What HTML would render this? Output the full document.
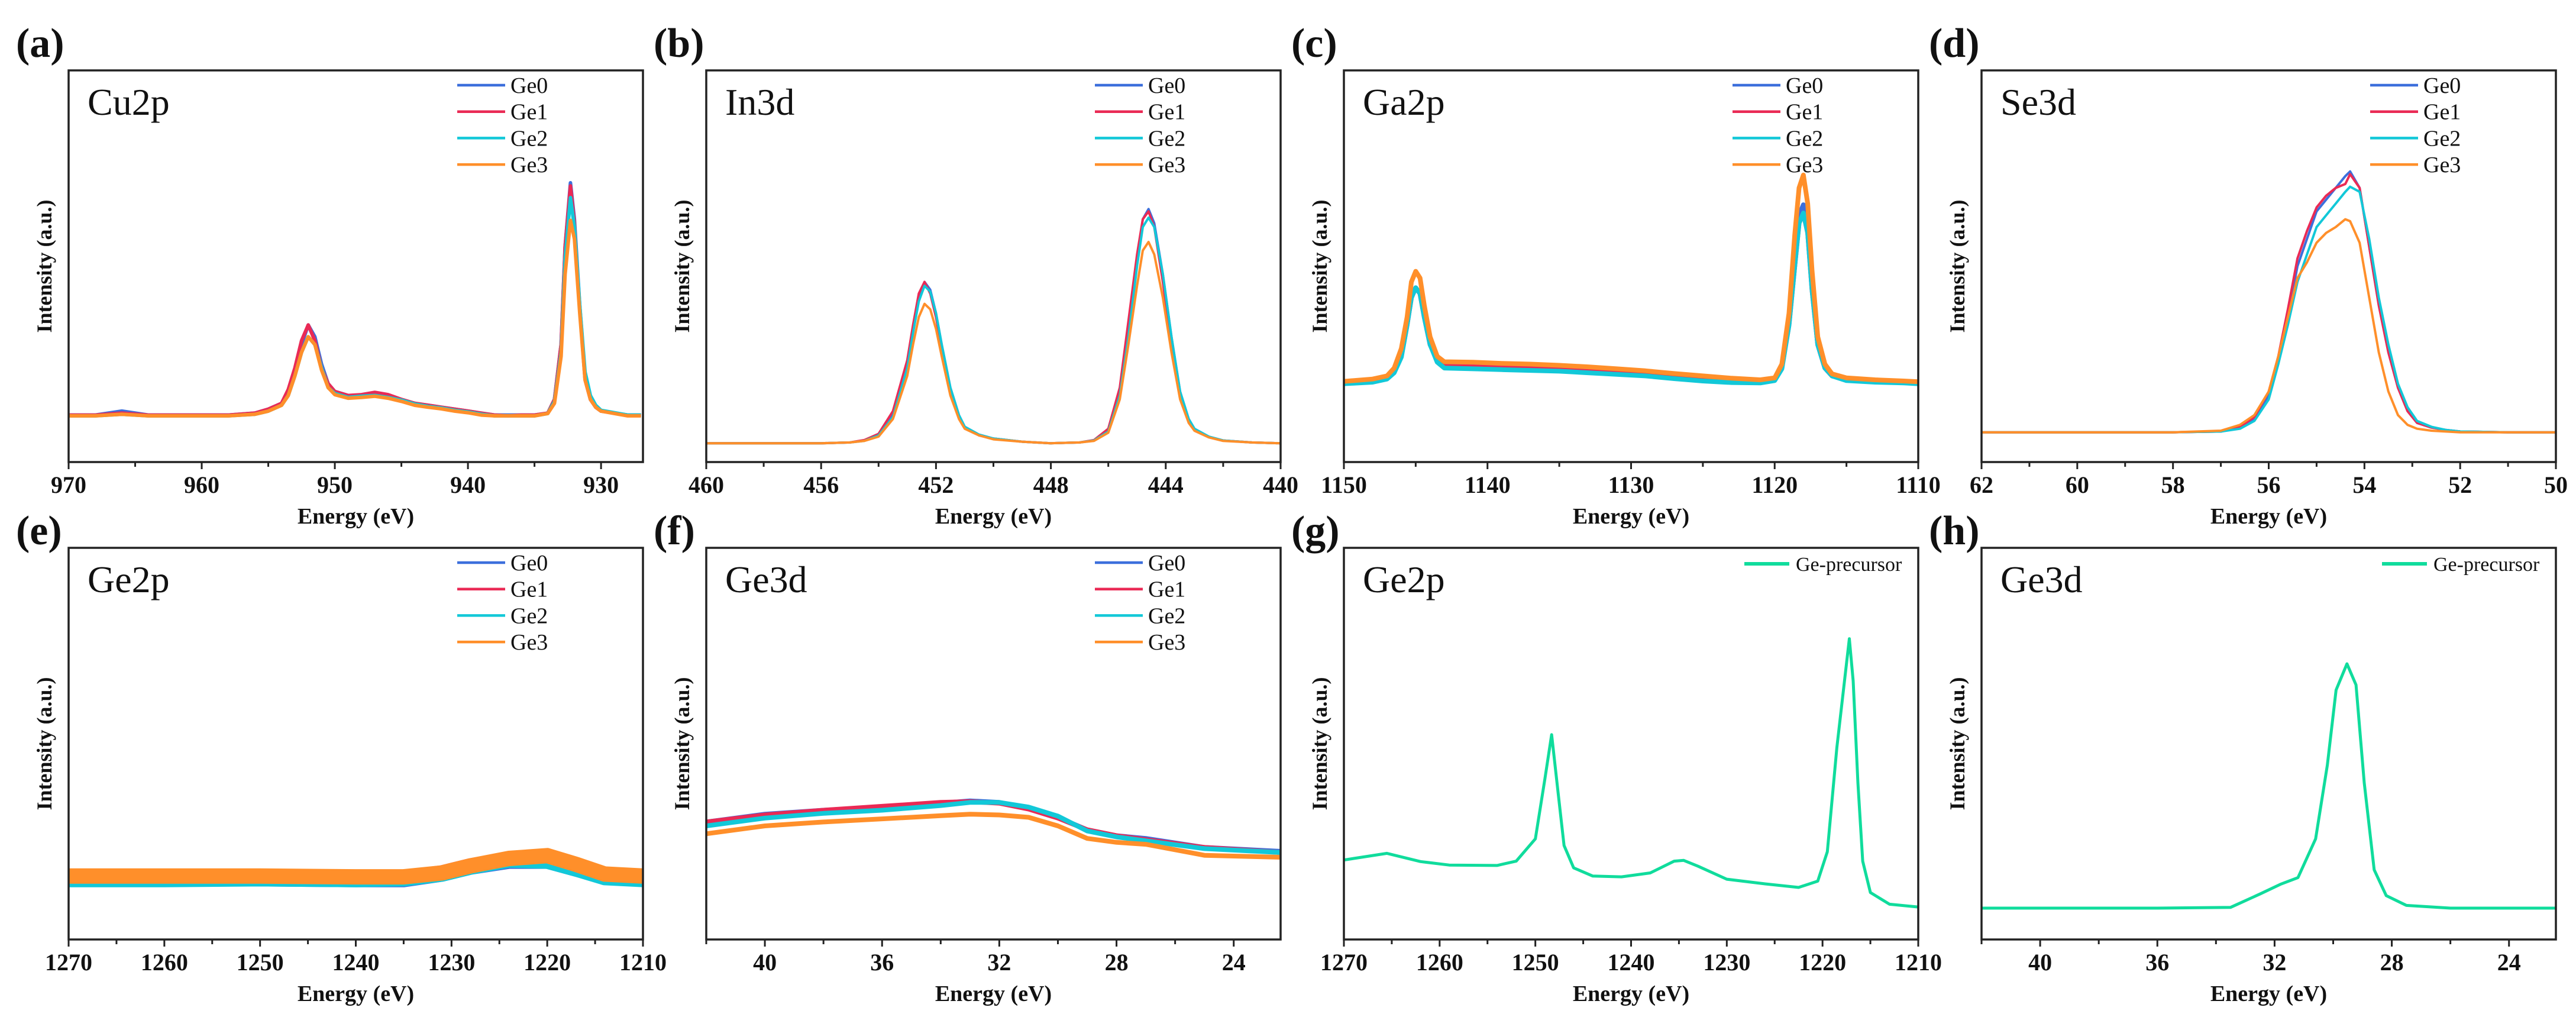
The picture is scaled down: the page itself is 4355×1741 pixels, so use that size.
<!DOCTYPE html>
<html><head><meta charset="utf-8"><style>
html,body{margin:0;padding:0;background:#fff;}
svg{display:block;font-family:"Liberation Serif",serif;}
text{font-family:"Liberation Serif",serif;}
</style></head><body>
<svg id="fig" width="4355" height="1741" viewBox="0 0 4355 1741" xmlns="http://www.w3.org/2000/svg" font-family="Liberation Serif, serif"></svg>
<script>
// ---- data (normalized intensity, 0 = bottom of frame, 1 = top) ----
const seriesNames = ["Ge0","Ge1","Ge2","Ge3"];
const seriesColors = ["#3c6fdc","#ea2a55","#12c8d8","#ff8f2a"];

const ea = [970,968,966,964,962,960,958,956,955,954,953.5,953,952.5,952,951.5,951,950.5,950,949,948,947,946,945,944,943,942,941,940,939,938,937,936,935,934,933.5,933,932.7,932.3,932,931.6,931.2,930.8,930.4,930,929,928,927];
const a0 = [.12,.12,.13,.12,.12,.12,.12,.125,.135,.15,.18,.23,.30,.35,.32,.25,.20,.18,.17,.17,.175,.17,.16,.15,.145,.14,.135,.13,.125,.12,.12,.12,.12,.125,.16,.30,.55,.713,.62,.40,.22,.16,.14,.13,.125,.12,.12];
const a1 = [.12,.12,.125,.12,.12,.12,.12,.125,.135,.15,.185,.24,.31,.35,.31,.24,.20,.18,.17,.172,.178,.172,.16,.15,.145,.14,.135,.13,.125,.12,.118,.12,.12,.125,.16,.30,.55,.705,.61,.39,.21,.16,.14,.13,.125,.12,.12];
const a2 = [.118,.118,.122,.118,.118,.118,.118,.122,.13,.145,.17,.22,.28,.32,.30,.24,.19,.175,.165,.168,.17,.165,.158,.148,.142,.138,.132,.128,.122,.118,.118,.118,.118,.124,.155,.28,.52,.675,.60,.40,.23,.17,.145,.132,.126,.12,.12];
const a3 = [.118,.118,.122,.118,.118,.118,.118,.122,.13,.145,.17,.22,.28,.32,.30,.235,.19,.172,.163,.165,.168,.163,.155,.145,.14,.136,.13,.126,.12,.118,.118,.118,.118,.124,.15,.27,.48,.617,.57,.38,.21,.16,.14,.13,.124,.118,.118];

const eb = [460,458,456,455,454.5,454,453.5,453,452.8,452.6,452.4,452.2,452,451.8,451.5,451.2,451,450.5,450,449,448,447,446.5,446,445.6,445.3,445,444.8,444.6,444.4,444.1,443.8,443.5,443.2,443,442.5,442,441,440];
const b0 = [.048,.048,.048,.05,.055,.07,.12,.25,.34,.42,.46,.44,.38,.30,.19,.12,.09,.07,.06,.052,.048,.05,.055,.08,.18,.34,.52,.62,.646,.61,.48,.32,.18,.11,.085,.065,.055,.05,.048];
const b1 = [.048,.048,.048,.05,.056,.072,.13,.26,.35,.43,.46,.43,.37,.29,.18,.115,.088,.068,.06,.052,.048,.05,.056,.085,.19,.36,.53,.62,.64,.60,.46,.30,.17,.105,.082,.064,.055,.05,.048];
const b2 = [.048,.048,.048,.05,.054,.068,.115,.24,.33,.41,.45,.435,.38,.30,.19,.12,.09,.07,.06,.052,.048,.05,.055,.078,.17,.32,.50,.60,.624,.60,.48,.32,.18,.11,.085,.065,.055,.05,.048];
const b3 = [.048,.048,.048,.05,.054,.065,.11,.22,.30,.37,.404,.39,.34,.27,.17,.11,.085,.068,.058,.052,.048,.05,.054,.075,.16,.30,.45,.54,.562,.53,.42,.28,.16,.10,.08,.063,.054,.05,.048];

const ec = [1150,1148,1147,1146.5,1146,1145.6,1145.3,1145,1144.7,1144.4,1144,1143.5,1143,1141,1139,1137,1135,1133,1131,1129,1127,1125,1123,1121,1120,1119.5,1119,1118.6,1118.3,1118,1117.7,1117.4,1117,1116.5,1116,1115,1113,1111,1110];
const c0 = [.204,.208,.215,.23,.27,.35,.42,.445,.43,.37,.30,.26,.246,.245,.242,.24,.237,.233,.229,.225,.218,.212,.207,.205,.21,.24,.36,.52,.63,.657,.60,.45,.30,.24,.22,.21,.208,.205,.204];
const c1 = [.204,.208,.215,.23,.27,.35,.42,.445,.43,.37,.30,.26,.244,.243,.24,.238,.235,.231,.227,.223,.216,.21,.205,.204,.21,.24,.35,.50,.61,.636,.585,.44,.30,.24,.22,.21,.206,.204,.203];
const c2 = [.200,.204,.212,.228,.268,.35,.42,.445,.43,.37,.30,.255,.24,.238,.236,.234,.232,.228,.224,.22,.213,.207,.203,.202,.208,.238,.35,.50,.61,.636,.585,.44,.30,.24,.22,.208,.204,.202,.2];
const c3 = [.206,.212,.22,.24,.29,.37,.46,.487,.47,.40,.32,.27,.256,.255,.252,.25,.247,.243,.238,.233,.226,.22,.214,.21,.215,.25,.38,.58,.70,.733,.66,.49,.32,.25,.225,.215,.21,.207,.205];

const ed = [62,60,58,57,56.6,56.3,56,55.8,55.6,55.4,55.2,55,54.8,54.6,54.4,54.3,54.1,53.9,53.7,53.5,53.3,53.1,52.9,52.6,52.3,52,51,50];
const d0 = [.076,.076,.076,.078,.088,.11,.17,.26,.37,.50,.57,.64,.67,.70,.73,.742,.70,.55,.40,.28,.19,.13,.10,.088,.082,.078,.076,.076];
const d1 = [.076,.076,.076,.078,.09,.115,.18,.27,.39,.52,.59,.65,.68,.70,.71,.735,.70,.55,.40,.28,.19,.13,.10,.088,.082,.078,.076,.076];
const d2 = [.076,.076,.076,.078,.085,.105,.16,.25,.35,.46,.53,.60,.63,.66,.69,.703,.69,.57,.42,.30,.20,.14,.105,.09,.082,.078,.076,.076];
const d3 = [.076,.076,.076,.08,.095,.12,.18,.27,.37,.47,.51,.56,.585,.60,.62,.615,.56,.42,.28,.18,.12,.095,.085,.08,.078,.076,.076,.076];

const ee = [1270,1260,1250,1240,1235,1231,1228,1224,1220,1217,1214,1210];
const e0 = [.155,.155,.155,.153,.153,.167,.185,.2,.2,.18,.16,.155];
const e1 = [.16,.16,.16,.158,.158,.17,.188,.205,.208,.19,.165,.16];
const e2 = [.153,.153,.155,.153,.155,.167,.185,.203,.2,.18,.158,.153];
const e3 = [.162,.162,.162,.16,.16,.17,.188,.207,.214,.192,.167,.162];

const ef = [42,40,38,36,34,33,32,31,30,29,28,27,25,22.4];
const f0 = [.30,.32,.33,.338,.348,.354,.35,.335,.312,.28,.265,.258,.235,.225];
const f1 = [.30,.318,.33,.34,.35,.352,.348,.333,.31,.28,.265,.255,.235,.222];
const f2 = [.29,.31,.322,.33,.342,.35,.35,.338,.315,.277,.262,.252,.232,.222];
const f3 = [.27,.29,.30,.308,.316,.32,.318,.312,.29,.258,.248,.243,.215,.21];

const eg = [1270,1265.5,1262,1259,1254,1252,1250,1249,1248.3,1247.6,1247,1246,1244,1241,1238,1235.5,1234.5,1233,1230,1226,1222.5,1220.5,1219.5,1218.5,1217.2,1216.8,1216.3,1215.8,1215,1213,1210];
const g0 = [.203,.22,.199,.19,.189,.20,.257,.41,.523,.37,.24,.183,.162,.16,.17,.20,.202,.187,.154,.142,.133,.149,.224,.49,.768,.66,.40,.20,.12,.09,.083];

const eh = [42,36,33.5,32.5,31.8,31.2,30.6,30.2,29.9,29.53,29.22,28.94,28.6,28.19,27.5,26,22.4];
const h0 = [.08,.08,.082,.116,.141,.158,.257,.445,.637,.704,.65,.40,.178,.112,.087,.08,.08];

// ---- tick labels ----
const ticksA = [970,960,950,940,930];
const ticksB = [460,456,452,448,444,440];
const ticksC = [1150,1140,1130,1120,1110];
const ticksD = [62,60,58,56,54,52,50];
const ticksE = [1270,1260,1250,1240,1230,1220,1210];
const ticksF = [40,36,32,28,24];

// ---- layout ----
const NS = "http://www.w3.org/2000/svg";
const FONT = "Liberation Serif, serif";
const svg = document.getElementById("fig");
function mk(tag, attrs, parent){
  const el = document.createElementNS(NS, tag);
  for (const k in attrs) el.setAttribute(k, attrs[k]);
  if (tag === "text") el.setAttribute("font-family", FONT);
  (parent||svg).appendChild(el);
  return el;
}
const PW = 971, PH = 662;
const colX = [116,1194,2272,3350];
const rowY = [119,926];

const panels = [
 {id:"a", title:"Cu2p", col:0,row:0, dom:[970,926.85], ticks:ticksA, minor:5, x:ea, ys:[a0,a1,a2,a3], sw:6},
 {id:"b", title:"In3d", col:1,row:0, dom:[460,440], ticks:ticksB, minor:2, x:eb, ys:[b0,b1,b2,b3], sw:4},
 {id:"c", title:"Ga2p", col:2,row:0, dom:[1150,1110], ticks:ticksC, minor:5, x:ec, ys:[c0,c1,c2,c3], sw:8},
 {id:"d", title:"Se3d", col:3,row:0, dom:[62,50], ticks:ticksD, minor:1, x:ed, ys:[d0,d1,d2,d3], sw:4},
 {id:"e", title:"Ge2p", col:0,row:1, dom:[1270,1210], ticks:ticksE, minor:5, x:ee, ys:[e0,e1,e2,e3], sw:26},
 {id:"f", title:"Ge3d", col:1,row:1, dom:[42,22.4], ticks:ticksF, minor:2, x:ef, ys:[f0,f1,f2,f3], sw:8},
 {id:"g", title:"Ge2p", col:2,row:1, dom:[1270,1210], ticks:ticksE, minor:5, x:eg, ys:[g0], sw:5, single:true},
 {id:"h", title:"Ge3d", col:3,row:1, dom:[42,22.4], ticks:ticksF, minor:2, x:eh, ys:[h0], sw:5, single:true}
];

panels.forEach(p=>{
  const L = colX[p.col], T = rowY[p.row], R = L+PW, B = T+PH;
  const g = mk("g",{});
  
  
  const sx = v => L + (p.dom[0]-v)/(p.dom[0]-p.dom[1])*PW;
  const sy = v => B - v*PH;

  const cp = mk("clipPath",{id:"clip"+p.id}, g);
  mk("rect",{x:L,y:T,width:PW,height:PH}, cp);

  const sg = mk("g",{"clip-path":"url(#clip"+p.id+")"}, g);
  p.ys.forEach((ys,i)=>{
    let d = "";
    p.x.forEach((xv,j)=>{ d += (j?"L":"M")+sx(xv).toFixed(1)+","+sy(ys[j]).toFixed(1); });
    const col = p.single ? "#10dc9c" : seriesColors[i];
    const path = mk("path",{d:d, fill:"none", stroke:col, "stroke-width":p.sw, "stroke-linejoin":"round"}, sg);
    
    
  });

  const fr = mk("rect",{x:L,y:T,width:PW,height:PH,fill:"none",stroke:"#222","stroke-width":3.5}, g);
  
  

  const lo = Math.min(p.dom[0],p.dom[1]), hi = Math.max(p.dom[0],p.dom[1]);
  for (let v = Math.ceil(lo/p.minor)*p.minor; v <= hi+1e-9; v += p.minor){
    const X = sx(v);
    const isMajor = p.ticks.indexOf(Math.round(v*1000)/1000) >= 0;
    const t = mk("line",{x1:X,y1:B,x2:X,y2:B+(isMajor?12:8),stroke:"#222","stroke-width":3}, g);
    
    
  }
  p.ticks.forEach(v=>{
    const t = mk("text",{x:sx(v),y:B+52,"text-anchor":"middle","font-size":40,"font-weight":"bold",fill:"#111"}, g);
    t.textContent = v;
    
    
  });
  const xt = mk("text",{x:L+PW/2,y:B+104,"text-anchor":"middle","font-size":38,"font-weight":"bold",fill:"#111"}, g);
  xt.textContent = "Energy (eV)";
  
  
  const yt = mk("text",{x:0,y:0,"text-anchor":"middle","font-size":36,"font-weight":"bold",fill:"#111",transform:"translate("+(L-29)+","+(T+PH/2)+") rotate(-90)"}, g);
  yt.textContent = "Intensity (a.u.)";
  
  

  const pt = mk("text",{x:L+32,y:T+75,"font-size":64,fill:"#111"}, g);
  pt.textContent = p.title;
  
  

  const pl = mk("text",{x:L-89,y:(p.row===0?T-23:T-6),"font-size":70,"font-weight":"bold",fill:"#111"}, g);
  pl.textContent = "("+p.id+")";
  
  

  if (p.single){
    const lg = mk("g",{}, g);
    
    
    mk("line",{x1:R-294,y1:T+27,x2:R-218,y2:T+27,stroke:"#10dc9c","stroke-width":6}, lg);
    const lt = mk("text",{x:R-207,y:T+39,"font-size":34,fill:"#111"}, lg);
    lt.textContent = "Ge-precursor";
    
    
  } else {
    const lg = mk("g",{}, g);
    
    
    seriesNames.forEach((n,i)=>{
      const yy = T+25+i*44.7;
      mk("line",{x1:R-314,y1:yy,x2:R-233,y2:yy,stroke:seriesColors[i],"stroke-width":4.5}, lg);
      const lt = mk("text",{x:R-224,y:yy+13,"font-size":38,fill:"#111"}, lg);
      lt.textContent = n;
      
      
    });
  }
});
</script>
</body></html>
